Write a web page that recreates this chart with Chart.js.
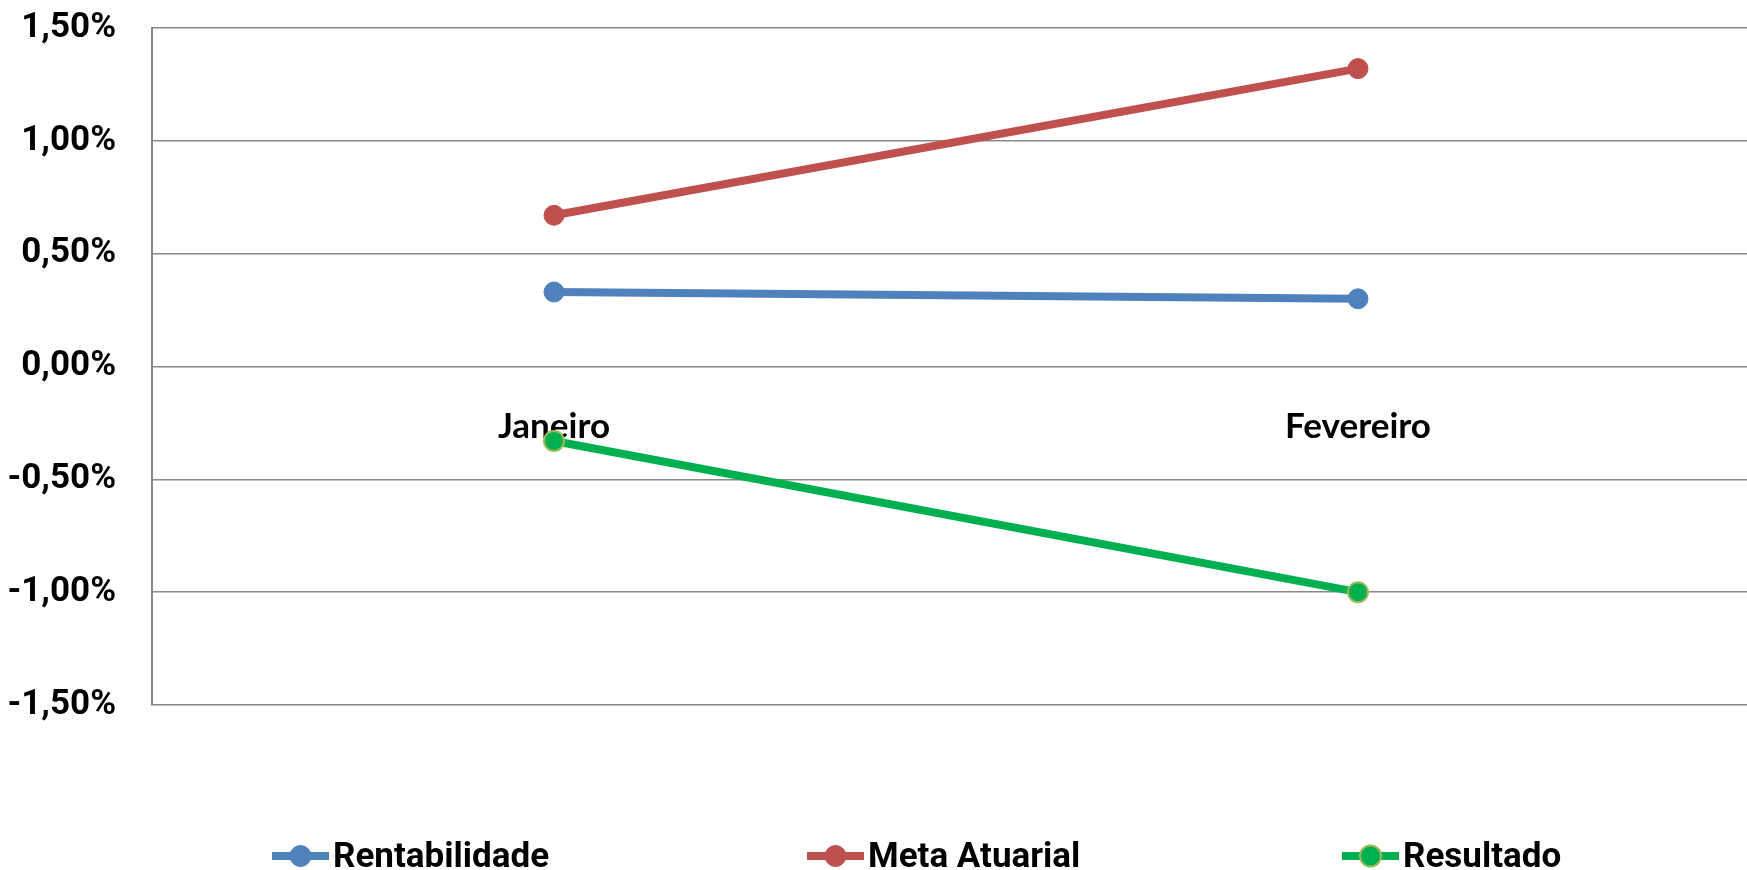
<!DOCTYPE html>
<html>
<head>
<meta charset="utf-8">
<script src="https://cdn.jsdelivr.net/npm/chart.js@4/dist/chart.umd.min.js"></script>
<style>
  html, body { margin: 0; padding: 0; background: #fff; overflow: hidden; }
  #wrap { width: 1772px; height: 870px; }
</style>
</head>
<body>
<div id="wrap"><canvas id="chart"></canvas></div>
<script>
// Data
const months = ['Janeiro', 'Fevereiro'];
const rentabilidade = [0.33, 0.30];
const metaAtuarial = [0.67, 1.32];
const resultado = [-0.33, -1.00];
const yMin = -1.5, yMax = 1.5, yStep = 0.5;

// Colors
const blue = '#4F81BD';
const red = '#C0504D';
const green = '#00B050';
const greenEdge = '#9BBB59';
const gridGray = '#888888';

const fmtPct = v => v.toFixed(2).replace('.', ',') + '%';

// Legend drawn below the plot (line + dot marker, like the spreadsheet one)
const legendBox = { startX: 272, spacing: 535, y: 856, lineLen: 57 };
const bottomLegend = {
  id: 'bottomLegend',
  afterDraw(chart) {
    const ctx = chart.ctx;
    chart.data.datasets.forEach((ds, i) => {
      const x = legendBox.startX + i * legendBox.spacing;
      const y = legendBox.y;
      ctx.save();
      ctx.strokeStyle = ds.borderColor;
      ctx.lineWidth = 8;
      ctx.beginPath();
      ctx.moveTo(x, y);
      ctx.lineTo(x + legendBox.lineLen, y);
      ctx.stroke();
      ctx.beginPath();
      ctx.arc(x + legendBox.lineLen / 2, y, 10.5, 0, Math.PI * 2);
      ctx.fillStyle = ds.pointBackgroundColor;
      ctx.fill();
      ctx.lineWidth = ds.pointBorderWidth;
      ctx.strokeStyle = ds.pointBorderColor;
      ctx.stroke();
      ctx.fillStyle = '#000';
      ctx.font = 'bold 35px Roboto';
      ctx.textBaseline = 'middle';
      ctx.textAlign = 'left';
      ctx.fillText(ds.label, x + legendBox.lineLen + 4, y + 2);
      ctx.restore();
    });
  }
};

const ctx = document.getElementById('chart').getContext('2d');
new Chart(ctx, {
  type: 'line',
  data: {
    labels: months,
    datasets: [
      { label: 'Rentabilidade', data: rentabilidade, borderColor: blue, backgroundColor: blue,
        pointBackgroundColor: blue, pointBorderColor: blue, pointBorderWidth: 1 },
      { label: 'Meta Atuarial', data: metaAtuarial, borderColor: red, backgroundColor: red,
        pointBackgroundColor: red, pointBorderColor: red, pointBorderWidth: 1 },
      { label: 'Resultado', data: resultado, borderColor: green, backgroundColor: green,
        pointBackgroundColor: green, pointBorderColor: greenEdge, pointBorderWidth: 2 }
    ]
  },
  options: {
    responsive: true,
    maintainAspectRatio: false,
    animation: false,
    layout: { padding: { top: 28, right: 2, bottom: 165, left: 0 } },
    elements: {
      line: { borderWidth: 8, tension: 0 },
      point: { radius: 10, hoverRadius: 10 }
    },
    plugins: {
      legend: { display: false },
      tooltip: { enabled: false }
    },
    scales: {
      x: {
        position: { y: 0 },
        offset: true,
        grid: { display: false, drawTicks: false },
        border: { display: false },
        ticks: {
          padding: 39,
          color: '#000',
          font: { family: 'Lato', weight: 'bold', size: 35 }
        }
      },
      y: {
        min: yMin,
        max: yMax,
        afterFit(scale) { scale.width = 152; },
        grid: { color: gridGray, lineWidth: 1.5, drawTicks: true, tickLength: 34, tickColor: 'rgba(0,0,0,0)' },
        border: { display: true, color: gridGray, width: 2 },
        ticks: {
          stepSize: yStep,
          padding: 2,
          color: '#000',
          font: { family: 'Roboto', weight: 'bold', size: 35 },
          callback: v => fmtPct(v)
        }
      }
    }
  },
  plugins: [bottomLegend]
});
</script>
</body>
</html>
